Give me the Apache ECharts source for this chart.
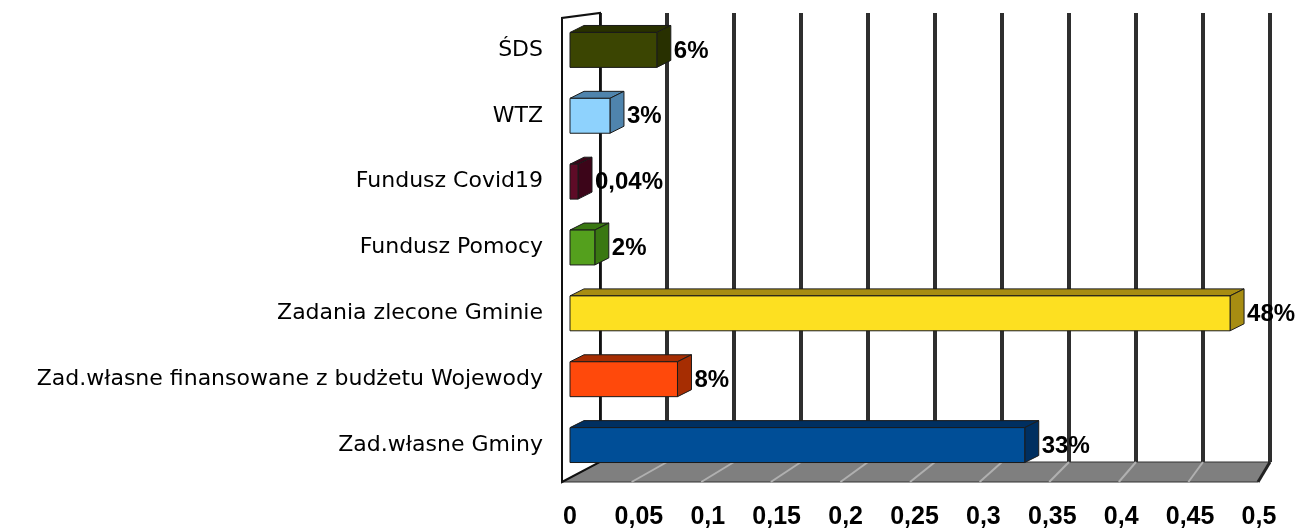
<!DOCTYPE html>
<html>
<head>
<meta charset="utf-8">
<script src="https://cdn.jsdelivr.net/npm/echarts@6/dist/echarts.min.js"></script>
<style>
html, body { margin: 0; padding: 0; background: #fff; }
#main { width: 1302px; height: 530px; }
</style>
</head>
<body>
<div id="main"></div>
<script>
// dane
var categories = ['ŚDS', 'WTZ', 'Fundusz Covid19', 'Fundusz Pomocy', 'Zadania zlecone Gminie',
    'Zad.własne finansowane z budżetu Wojewody', 'Zad.własne Gminy'];
var shares = [0.063, 0.029, 0.0004, 0.018, 0.479, 0.078, 0.33];
var faceColors = ['#3b4502', '#8ed2fd', '#5e0b27', '#54a01d', '#fde021', '#ff490b', '#004e97'];
var sideColors = ['#283000', '#4f84ad', '#3c0519', '#3a7812', '#a78d12', '#a62d02', '#002f60'];
var axisMin = 0, axisMax = 0.5, axisStep = 0.05;

// uklad "3D": tylna sciana z liniami siatki, przod z slupkami
var back = { left: 600, right: 32, top: 13, bottom: 68 };
var front = { left: 570, right: 43, top: 17, bottom: 48 };
var W = 1302, H = 530;
var depthX = 14, depthY = 7;

function pct(v) {
    var p = v * 100;
    return p < 1 ? p.toFixed(2).replace('.', ',') + '%' : Math.round(p) + '%';
}

function renderBar(params, api) {
    var idx = api.value(0), v = api.value(1);
    var p0 = api.coord([0, idx]), p1 = api.coord([v, idx]);
    var h = api.size([0, 1])[1] * 0.53;
    var x0 = p0[0], x1 = Math.max(p1[0], x0 + 8), yt = p0[1] - h / 2, yb = p0[1] + h / 2;
    var face = faceColors[idx], side = sideColors[idx];
    var edge = { stroke: '#1a1a1a', lineWidth: 1 };
    return {
        type: 'group',
        children: [
            { type: 'polygon', shape: { points: [[x0, yt], [x0 + depthX, yt - depthY], [x1 + depthX, yt - depthY], [x1, yt]] },
              style: Object.assign({ fill: side }, edge) },
            { type: 'polygon', shape: { points: [[x1, yt], [x1 + depthX, yt - depthY], [x1 + depthX, yb - depthY], [x1, yb]] },
              style: Object.assign({ fill: side }, edge) },
            { type: 'rect', shape: { x: x0, y: yt, width: x1 - x0, height: h },
              style: Object.assign({ fill: face }, edge) },
            { type: 'text', style: { text: pct(v), x: x1 + depthX + 3, y: p0[1] + 1, verticalAlign: 'middle',
              font: 'bold 24px "Liberation Sans", Arial', fill: '#000' } }
        ]
    };
}

var myChart = echarts.init(document.getElementById('main'));
var option = {
    animation: false,
    grid: [
        { left: back.left, right: back.right, top: back.top, bottom: back.bottom, containLabel: false },
        { left: front.left, right: front.right, top: front.top, bottom: front.bottom, containLabel: false }
    ],
    xAxis: [
        { type: 'value', gridIndex: 0, min: axisMin, max: axisMax, interval: axisStep,
          axisLine: { show: false }, axisTick: { show: false }, axisLabel: { show: false },
          splitLine: { show: true, lineStyle: { color: '#2e2e2e', width: 4 } } },
        { type: 'value', gridIndex: 1, min: axisMin, max: axisMax, interval: axisStep,
          axisLine: { show: false }, axisTick: { show: false }, splitLine: { show: false },
          axisLabel: { margin: 27, color: '#000', fontSize: 25, fontWeight: 'bold', fontFamily: '"Liberation Sans", Arial',
            formatter: function (v) { return String(+v.toFixed(2)).replace('.', ','); } } }
    ],
    yAxis: [
        { type: 'category', gridIndex: 0, data: categories, inverse: true, show: false },
        { type: 'category', gridIndex: 1, data: categories, inverse: true,
          axisLine: { show: false }, axisTick: { show: false }, splitLine: { show: false },
          axisLabel: { margin: 27, color: '#000', fontSize: 22, fontFamily: '"DejaVu Sans"' } }
    ],
    series: [{
        type: 'custom',
        xAxisIndex: 1,
        yAxisIndex: 1,
        renderItem: renderBar,
        encode: { x: 1, y: 0 },
        data: shares.map(function (v, i) { return [i, v]; }),
        z: 3
    }]
};
myChart.setOption(option);

// podloga i lewa sciana
var bL = back.left, bR = W - back.right, bT = back.top, bB = H - back.bottom;
var fL = myChart.convertToPixel({ xAxisIndex: 1 }, axisMin) - 8;
var fR = myChart.convertToPixel({ xAxisIndex: 1 }, axisMax) - 1;
var fB = H - front.bottom;
var gfx = [
    { type: 'polygon', z: 1, shape: { points: [[fL, fB], [fR, fB], [bR, bB], [bL, bB]] },
      style: { fill: '#7f7f7f', stroke: '#333', lineWidth: 1 } },
    { type: 'polygon', z: 1, shape: { points: [[fL, fB], [fL, bT + 5], [bL, bT], [bL, bB]] },
      style: { fill: '#fff', stroke: '#111', lineWidth: 2 } }
];
for (var t = axisMin + axisStep; t < axisMax - 1e-9; t += axisStep) {
    var xb = myChart.convertToPixel({ xAxisIndex: 0 }, t);
    var xf = fL + (t - axisMin) / (axisMax - axisMin) * (fR - fL);
    gfx.push({ type: 'line', z: 1, shape: { x1: xb, y1: bB, x2: xf, y2: fB },
        style: { stroke: '#b0b0b0', lineWidth: 2 } });
}
gfx.push({ type: 'line', z: 1, shape: { x1: bR, y1: bB, x2: fR, y2: fB }, style: { stroke: '#222', lineWidth: 3 } });
myChart.setOption({ graphic: gfx });
</script>
</body>
</html>
